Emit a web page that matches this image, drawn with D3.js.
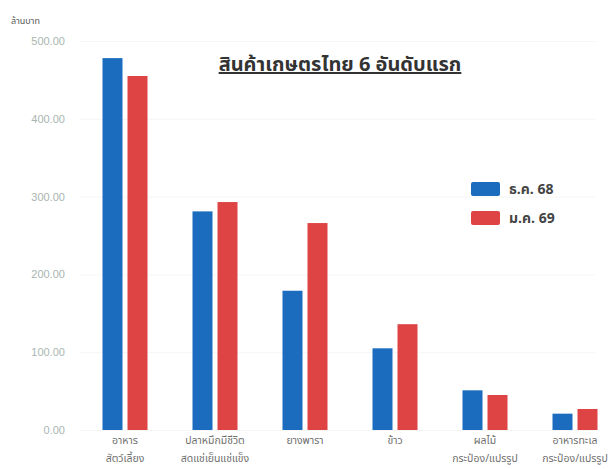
<!DOCTYPE html>
<html>
<head>
<meta charset="utf-8">
<script src="https://cdn.jsdelivr.net/npm/d3@7"></script>
<style>
  html, body { margin: 0; padding: 0; background: #ffffff; }
  svg { display: block; font-family: "Noto Sans Thai", "Noto Sans", "DejaVu Sans", sans-serif; }
</style>
</head>
<body>
<div id="chart"></div>
<script>
// Top 6 Thai agricultural products, million baht
const categories = [
  ['อาหาร', 'สัตว์เลี้ยง'],
  ['ปลาหมึกมีชีวิต', 'สดแช่เย็นแช่แข็ง'],
  ['ยางพารา'],
  ['ข้าว'],
  ['ผลไม้', 'กระป๋อง/แปรรูป'],
  ['อาหารทะเล', 'กระป๋อง/แปรรูป']
];
const seriesNames = ['ธ.ค. 68', 'ม.ค. 69'];
const decValues = [478, 281, 179, 105, 51, 21];
const janValues = [455, 293, 266, 136, 45, 27];
const yTicks = [0, 100, 200, 300, 400, 500];

const COLORS = ['#1b6cbf', '#dd4443'];

const width = 615;
const height = 469;
const margin = { top: 41, right: -5, bottom: 39, left: 80 };

const svg = d3.select('#chart')
  .append('svg')
  .attr('width', width)
  .attr('height', height);

const y = d3.scaleLinear()
  .domain([0, 500])
  .range([height - margin.bottom, margin.top]);

const x = d3.scaleBand()
  .domain(d3.range(categories.length))
  .range([margin.left, width - margin.right])
  .paddingInner(0.5)
  .paddingOuter(0.25);

const xInner = d3.scaleBand()
  .domain(seriesNames)
  .range([0, x.bandwidth()])
  .paddingInner(0.2);

// faint gridlines + tick labels
const yAxis = d3.axisLeft(y)
  .tickValues(yTicks)
  .tickFormat(d3.format('.2f'))
  .tickSize(-(width - margin.left - 20))
  .tickPadding(15);

const yG = svg.append('g')
  .attr('transform', `translate(${margin.left},0)`)
  .call(yAxis);
yG.select('.domain').remove();
yG.selectAll('.tick line').attr('stroke', '#f4f6f6').attr('stroke-width', 1);
yG.selectAll('.tick text')
  .attr('fill', '#a9b5b0')
  .attr('font-size', 11);

svg.append('text')
  .attr('x', 11)
  .attr('y', 24)
  .attr('fill', '#555')
  .attr('font-size', 9)
  .text('ล้านบาท');

// bars
const rows = categories.map((c, i) => ({ i, values: [decValues[i], janValues[i]] }));

const groups = svg.append('g')
  .selectAll('g')
  .data(rows)
  .enter()
  .append('g')
  .attr('transform', d => `translate(${x(d.i)},0)`);

groups.selectAll('rect')
  .data(d => d.values.map((v, k) => ({ name: seriesNames[k], v, k })))
  .enter()
  .append('rect')
  .attr('x', d => xInner(d.name))
  .attr('width', xInner.bandwidth())
  .attr('y', d => y(d.v))
  .attr('height', d => y(0) - y(d.v))
  .attr('fill', d => COLORS[d.k]);

// category labels
const labels = svg.append('g')
  .selectAll('text')
  .data(categories)
  .enter()
  .append('text')
  .attr('x', (d, i) => x(i) + x.bandwidth() / 2)
  .attr('y', height - margin.bottom + 14)
  .attr('text-anchor', 'middle')
  .attr('fill', '#6f6f6f')
  .attr('font-size', 10.5);

labels.selectAll('tspan')
  .data(d => d)
  .enter()
  .append('tspan')
  .attr('x', function () { return d3.select(this.parentNode).attr('x'); })
  .attr('dy', (d, k) => (k === 0 ? 0 : 18))
  .text(d => d);

// title
svg.append('text')
  .attr('x', 340)
  .attr('y', 71)
  .attr('text-anchor', 'middle')
  .attr('fill', '#333')
  .attr('font-size', 20)
  .attr('font-weight', 'bold')
  .attr('text-decoration', 'underline')
  .text('สินค้าเกษตรไทย 6 อันดับแรก');

// legend
const legend = svg.append('g')
  .attr('transform', 'translate(471,182)');

const legendItems = legend.selectAll('g')
  .data(seriesNames)
  .enter()
  .append('g')
  .attr('transform', (d, i) => `translate(0,${i * 29})`);

legendItems.append('rect')
  .attr('width', 29)
  .attr('height', 14)
  .attr('rx', 2)
  .attr('fill', (d, i) => COLORS[i]);

legendItems.append('text')
  .attr('x', 38)
  .attr('y', 12)
  .attr('fill', '#444')
  .attr('font-size', 14)
  .attr('font-weight', 'bold')
  .text(d => d);
</script>
</body>
</html>
